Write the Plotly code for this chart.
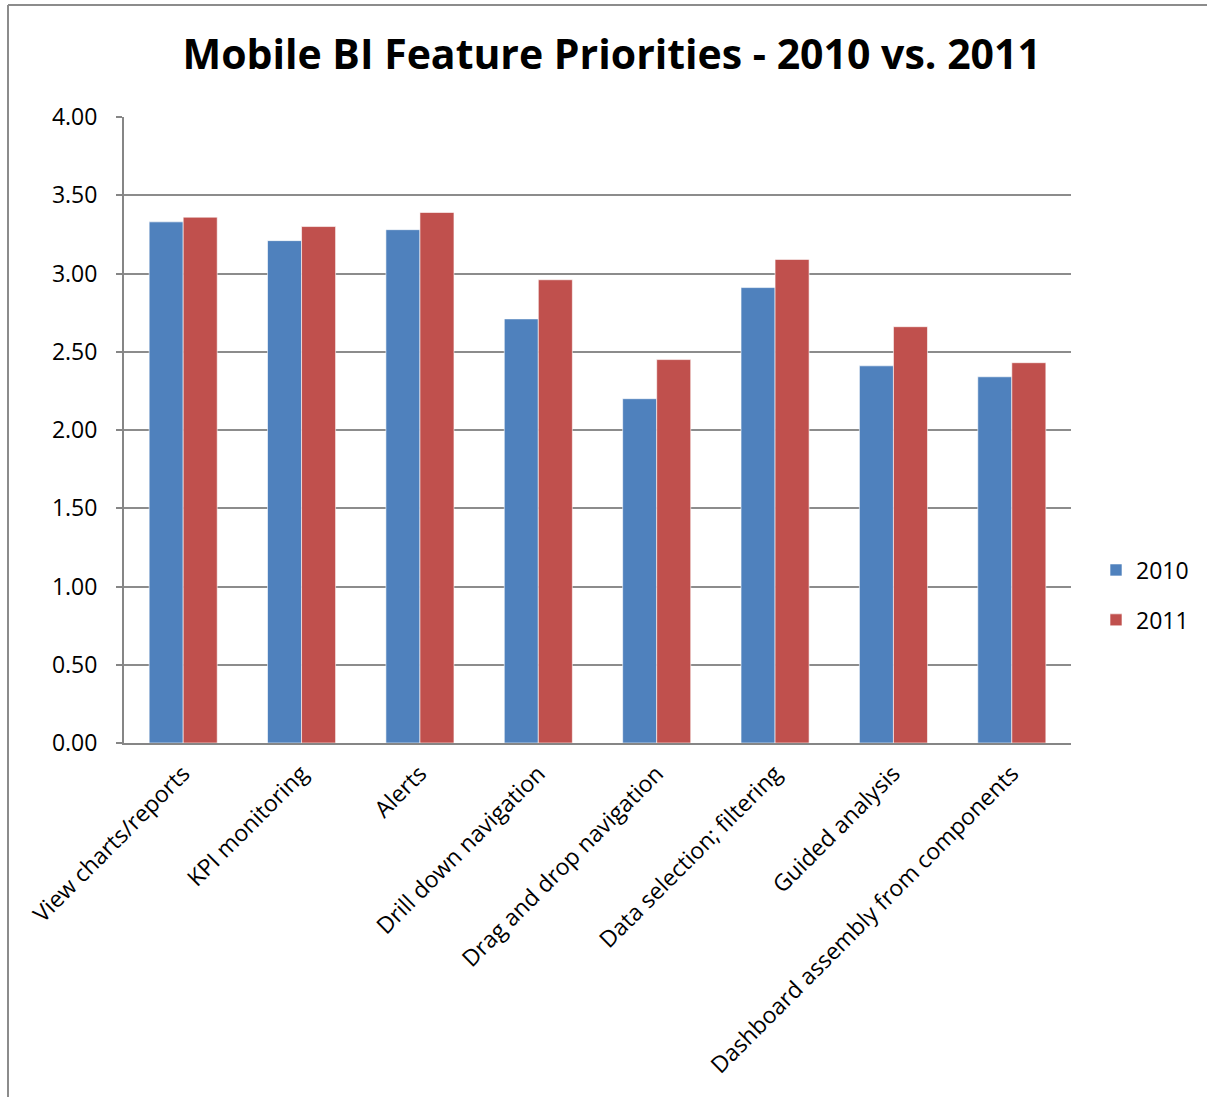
import plotly.graph_objects as go

# Survey categories and mean priority scores per year
categories = [
    "View charts/reports",
    "KPI monitoring",
    "Alerts",
    "Drill down navigation",
    "Drag and drop navigation",
    "Data selection; filtering",
    "Guided analysis",
    "Dashboard assembly from components",
]
scores_2010 = [3.33, 3.21, 3.28, 2.71, 2.20, 2.91, 2.41, 2.34]
scores_2011 = [3.36, 3.30, 3.39, 2.96, 2.45, 3.09, 2.66, 2.43]
y_ticks = [0, 0.5, 1.0, 1.5, 2.0, 2.5, 3.0, 3.5, 4.0]

FONT = "Open Sans"
W, H = 1207, 1097
L, R, T, B = 124, 1207 - 1071, 117, 1097 - 743

fig = go.Figure()
fig.add_trace(go.Bar(
    name="2010", x=categories, y=scores_2010, legendgroup="a",
    marker=dict(color="#4F81BD", line=dict(color="rgba(255,255,255,0.6)", width=1)),
))
fig.add_trace(go.Bar(
    name="2011", x=categories, y=scores_2011, legendgroup="b",
    marker=dict(color="#C0504D", line=dict(color="rgba(255,255,255,0.6)", width=1)),
))

# outer chart frame (left and top edges)
pw, ph = W - L - R, H - T - B
fx = (8 - L) / pw
fy = (743 - 5) / ph
fig.add_shape(type="line", xref="paper", yref="paper", x0=fx, x1=fx, y0=fy, y1=-1,
              line=dict(color="#8C8C8C", width=2))
fig.add_shape(type="line", xref="paper", yref="paper", x0=fx, x1=2, y0=fy, y1=fy,
              line=dict(color="#8C8C8C", width=2))

fig.update_layout(
    width=W, height=H,
    margin=dict(l=L, r=R, t=T, b=B, autoexpand=False),
    paper_bgcolor="white", plot_bgcolor="white",
    barmode="group", bargap=0.425, bargroupgap=0,
    font=dict(family=FONT, size=23, color="black"),
    title=dict(text="<b>Mobile BI Feature Priorities - 2010 vs. 2011</b>",
               x=0.515, xref="paper", xanchor="center",
               y=1 - 55 / H, yanchor="middle",
               font=dict(family=FONT, size=41, color="black")),
    legend=dict(x=(1096 - L) / pw, xanchor="left", y=(743 - 595) / ph, yanchor="middle",
                font=dict(size=23), itemwidth=30, traceorder="grouped",
                tracegroupgap=17),
    showlegend=True,
)
fig.update_xaxes(
    tickangle=-45, showline=True, linecolor="#868686", linewidth=2,
    showgrid=False, ticks="", tickfont=dict(size=23), ticklabelstandoff=6,
)
fig.update_yaxes(
    range=[0, 4], tickvals=y_ticks, ticktext=[f"{v:.2f}" for v in y_ticks],
    showgrid=True, gridcolor="#8C8C8C", gridwidth=2,
    showline=True, linecolor="#868686", linewidth=2,
    ticks="outside", ticklen=6, tickcolor="#868686", tickwidth=2,
    ticklabelstandoff=14, zeroline=False, tickfont=dict(size=23),
)

fig.write_html("out.html")
